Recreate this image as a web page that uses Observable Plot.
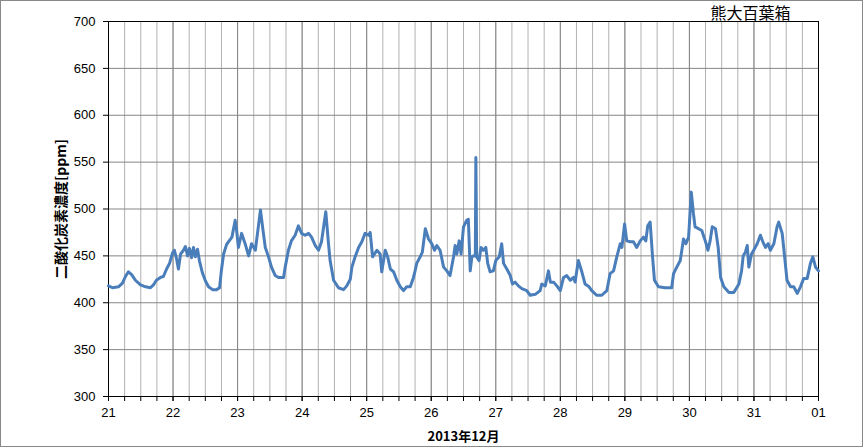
<!DOCTYPE html>
<html><head><meta charset="utf-8">
<script src="https://cdn.jsdelivr.net/npm/d3@7"></script>
<script src="https://cdn.jsdelivr.net/npm/@observablehq/plot@0.6"></script>
<style>
body{margin:0;background:#fff}
#c{position:relative;width:863px;height:447px}
#c svg{position:absolute;left:0;top:0}
#border{position:absolute;left:0;top:0;width:863px;height:447px;box-sizing:border-box;border:1px solid #898989;pointer-events:none}
</style>
</head><body><div id="c"><div id="border"></div></div>
<script>
// hours since 2013-12-21 00:00
const hours = [0.0,1.5,3.7,5.2,6.3,7.4,8.6,10.0,11.9,13.8,15.6,16.7,17.8,19.3,20.4,21.6,22.7,23.8,24.5,25.3,26.0,26.8,27.9,28.6,29.4,30.1,30.9,31.6,32.3,33.1,33.8,34.9,36.1,37.2,38.7,40.2,41.3,42.0,42.8,43.9,44.6,45.9,47.1,47.6,48.3,49.5,50.8,52.1,53.2,54.6,55.4,56.5,57.6,58.3,59.5,60.6,62.0,63.2,65.1,65.7,66.9,68.0,69.4,70.6,71.8,73.1,74.4,75.5,76.9,78.1,79.2,80.8,81.8,82.4,83.7,85.5,87.4,88.6,89.9,90.5,91.7,93.0,94.2,95.4,96.7,97.3,98.2,99.8,101.0,101.6,102.9,103.8,104.8,106.0,107.2,108.5,109.7,110.9,112.2,113.4,114.0,114.6,115.9,116.7,117.8,119.0,120.2,121.2,122.1,123.3,124.6,125.8,127.0,128.3,128.9,129.5,130.4,131.1,132.0,133.2,133.8,134.5,135.1,135.7,136.4,136.6,136.9,137.8,138.5,139.4,140.3,141.0,141.9,143.1,144.0,145.3,146.2,146.9,148.1,149.4,150.2,151.2,152.4,153.7,155.5,156.8,158.7,160.5,161.1,162.4,163.6,164.3,165.5,166.7,168.0,169.2,170.4,171.7,172.9,173.5,174.7,176.0,177.2,178.7,179.7,181.5,183.4,185.3,186.5,187.8,189.0,190.3,190.9,191.9,192.7,194.0,195.2,196.4,197.7,198.9,199.8,200.5,201.4,202.3,203.0,204.5,207.0,209.4,210.1,211.3,212.6,213.8,214.7,215.7,216.7,217.5,218.1,219.4,220.6,221.9,222.9,223.7,224.5,225.7,226.7,227.6,228.8,230.7,232.5,234.4,235.4,236.0,236.8,237.5,238.1,239.1,239.9,241.2,242.4,243.3,244.3,245.3,246.1,247.4,248.6,249.2,250.5,251.4,252.3,253.6,254.8,256.1,257.3,258.5,259.8,261.0,261.9,262.9,264.0];
const co2 = [418,416,417,421,428,433,430,424,419,417,416,419,424,427,428,436,442,453,456,447,436,452,456,460,450,458,448,459,449,457,445,432,423,417,414,414,416,435,452,462,465,470,488,478,459,474,463,450,463,456,474,499,474,459,449,438,429,427,427,438,456,466,472,482,474,472,474,470,461,456,465,497,463,445,424,416,414,418,425,438,449,459,465,474,472,475,449,456,452,433,456,449,436,433,424,417,413,417,417,427,434,442,449,454,479,468,463,456,461,456,438,434,429,449,461,452,466,452,481,488,489,434,449,450,450,555,449,445,459,456,459,442,433,434,445,449,463,442,436,429,420,422,418,415,413,408,409,413,420,418,434,422,422,418,413,427,429,424,427,422,445,433,420,417,413,408,408,413,431,434,449,463,459,484,466,465,465,459,466,470,466,482,486,449,424,417,416,416,431,438,445,468,463,470,518,495,481,479,477,466,456,466,481,479,459,427,417,411,411,420,434,450,454,461,438,452,456,463,472,465,459,463,456,463,481,486,474,449,424,417,417,410,417,426,426,442,449,438,434];
const dayTickLabels = ["21","22","23","24","25","26","27","28","29","30","31","01"];
const yTicks = [300,350,400,450,500,550,600,650,700];
const title = "熊大百葉箱";
const yLabel = "二酸化炭素濃度[ppm]";
const xLabel = "2013年12月";

const start = new Date(Date.UTC(2013,11,21));
const end = new Date(Date.UTC(2014,0,1));
const data = hours.map((h,i)=>({t:new Date(+start + h*3600e3), v:co2[i]}));
const dayTicks = d3.utcDay.range(start, new Date(+end + 1));
const minorTicks = d3.utcHour.every(6).range(start, new Date(+end + 1));

const chart = Plot.plot({
  width:863, height:447,
  marginLeft:108, marginRight:45, marginTop:21, marginBottom:51,
  style:{fontFamily:"'Liberation Sans', Arial, sans-serif", fontSize:"13px", color:"#000", background:"transparent"},
  x:{type:"utc", domain:[start,end]},
  y:{domain:[300,700]},
  marks:[
    Plot.gridX(minorTicks, {stroke:"#b2b2b2", strokeOpacity:1}),
    Plot.gridX(dayTicks, {stroke:"#868686", strokeOpacity:1}),
    Plot.gridY(yTicks, {stroke:"#868686", strokeOpacity:1}),
    Plot.axisX(minorTicks, {tickSize:5, tickFormat:()=>"", label:null, stroke:"#000"}),
    Plot.axisX(dayTicks, {tickSize:5, tickPadding:6, tickFormat:(d,i)=>dayTickLabels[i], label:null, stroke:"#000", fill:"#000"}),
    Plot.axisY(yTicks, {tickSize:5, tickPadding:8, label:null, stroke:"#000", fill:"#000"}),
    Plot.frame({stroke:"#000", strokeWidth:1}),
    Plot.lineY(data, {x:"t", y:"v", stroke:"#4a7ebb", strokeWidth:3, strokeLinejoin:"round"}),
    Plot.text([title], {frameAnchor:"top-right", dx:-68, dy:-8, textAnchor:"middle", lineAnchor:"middle", fontSize:16, fontFamily:"'Noto Sans CJK JP', sans-serif", fill:"#000"}),
    Plot.text([yLabel], {frameAnchor:"left", dx:-47, rotate:-90, textAnchor:"middle", lineAnchor:"middle", fontSize:14, fontWeight:"bold", fontFamily:"'Noto Sans CJK JP', sans-serif", fill:"#000"}),
    Plot.text([xLabel], {frameAnchor:"bottom", dy:40, textAnchor:"middle", lineAnchor:"middle", fontSize:13, fontWeight:"bold", fontFamily:"'Noto Sans CJK JP', sans-serif", fill:"#000"})
  ]
});
document.getElementById("c").insertBefore(chart, document.getElementById("border"));
</script>
</body></html>
